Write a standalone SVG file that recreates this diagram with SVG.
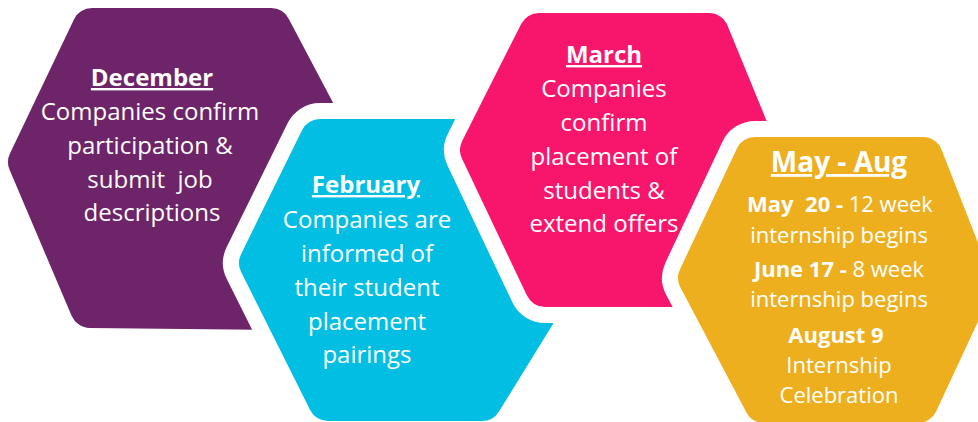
<svg xmlns="http://www.w3.org/2000/svg" width="978" height="422" viewBox="0 0 978 422">
<style>
.halo{fill:#fff;stroke:#fff;stroke-width:72;stroke-linejoin:round}
.body{stroke-width:40;stroke-linejoin:round}
.purple{fill:#6E2469;stroke:#6E2469}
.cyan{fill:#02BEE3;stroke:#02BEE3}
.pink{fill:#F8166C;stroke:#F8166C}
.gold{fill:#EEAF1F;stroke:#EEAF1F}
text{font-family:"Open Sans","Liberation Sans",sans-serif;fill:#fff;text-anchor:middle;white-space:pre}
.t{font-size:24px}
.h{font-size:24px;font-weight:700;text-decoration:underline}
.gh{font-size:28px;font-weight:700;text-decoration:underline}
.g{font-size:22px}
.b{font-weight:700}
</style>
<rect width="978" height="422" fill="#fff"/>
<g id="connectors"></g>
<g id="december">
<polygon class="halo" points="92,28 271,28 346,170 278,310 90,308 28,162"/>
<polygon class="body purple" points="92,28 271,28 346,170 278,310 90,308 28,162"/>
<text class="h" x="152" y="86">December</text>
<text class="t" x="150" y="120">Companies confirm</text>
<text class="t" x="150" y="154">participation &amp;</text>
<text class="t" x="150" y="188">submit  job</text>
<text class="t" x="152" y="221">descriptions</text>
</g>
<g id="february">
<polygon class="halo" points="320,139 498,139 564,268 482,401 328,401 259,263"/>
<polygon class="body cyan" points="320,139 498,139 564,268 482,401 328,401 259,263"/>
<text class="h" x="366" y="193">February</text>
<text class="t" x="367" y="228">Companies are</text>
<text class="t" x="367" y="262">informed of</text>
<text class="t" x="367" y="296">their student</text>
<text class="t" x="367" y="330">placement</text>
<text class="t" x="367" y="363">pairings</text>
</g>
<g id="march">
<polygon class="halo" points="539,33 709,33 763,165 709,287 545,287 480,150"/>
<polygon class="body pink" points="539,33 709,33 763,165 709,287 545,287 480,150"/>
<text class="h" x="604" y="63">March</text>
<text class="t" x="604" y="97">Companies</text>
<text class="t" x="604" y="131">confirm</text>
<text class="t" x="604" y="165">placement of</text>
<text class="t" x="604" y="199">students &amp;</text>
<text class="t" x="604" y="232">extend offers</text>
</g>
<g id="may-aug">
<polygon class="halo" points="755,157 923,157 973,285 918,403 764,403 698,278"/>
<polygon class="body gold" points="755,157 923,157 973,285 918,403 764,403 698,278"/>
<text class="gh" x="839" y="172">May - Aug</text>
<text class="g" x="840" y="212"><tspan class="b">May  20 - </tspan>12 week</text>
<text class="g" x="839" y="243">internship begins</text>
<text class="g" x="839" y="277"><tspan class="b">June 17 - </tspan>8 week</text>
<text class="g" x="839" y="307">internship begins</text>
<text class="g b" x="836" y="343">August 9</text>
<text class="g" x="839" y="373">Internship</text>
<text class="g" x="839" y="403">Celebration</text>
</g>
</svg>
